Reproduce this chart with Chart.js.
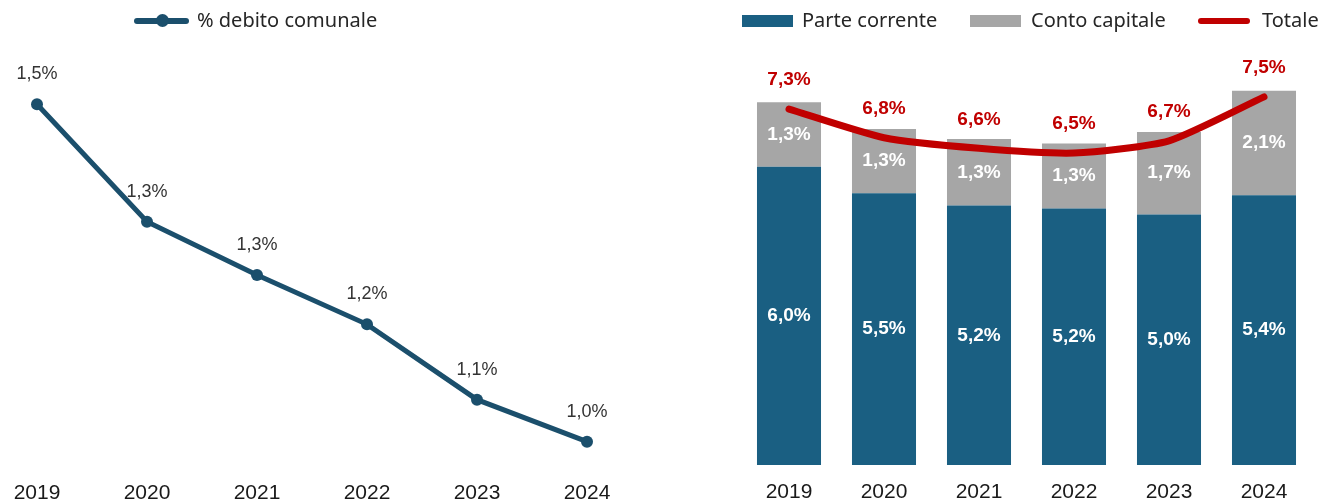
<!DOCTYPE html>
<html><head><meta charset="utf-8">
<script src="https://cdn.jsdelivr.net/npm/chart.js@4.4.1/dist/chart.umd.min.js"></script>
<style>
html,body{margin:0;padding:0;background:#fff;width:1322px;height:503px;overflow:hidden;position:relative;font-family:"Noto Sans",sans-serif}
canvas{position:absolute;top:0}
#c1{left:0}
#c2{left:661px}
.lg{position:absolute;font-size:20px;color:#262626;line-height:22px;white-space:nowrap;top:9px}
.sw{position:absolute}
</style></head>
<body>
<canvas id="c1" width="661" height="503"></canvas>
<canvas id="c2" width="661" height="503"></canvas>

<div class="sw" style="left:134px;top:18px;width:55px;height:6px;border-radius:3px;background:#1B4F6C"></div>
<div class="sw" style="left:156px;top:14px;width:13px;height:13px;border-radius:7px;background:#1B4F6C"></div>
<div class="lg" style="left:197px">% debito comunale</div>

<div class="sw" style="left:742px;top:15px;width:51px;height:12px;background:#1A5F82"></div>
<div class="lg" style="left:802px">Parte corrente</div>
<div class="sw" style="left:970px;top:15px;width:51px;height:12px;background:#A6A6A6"></div>
<div class="lg" style="left:1031px">Conto capitale</div>
<div class="sw" style="left:1198px;top:18px;width:52px;height:6px;border-radius:3px;background:#C00000"></div>
<div class="lg" style="left:1262px">Totale</div>

<script>
const years = ['2019', '2020', '2021', '2022', '2023', '2024'];
const debitoComunale = [1.516, 1.34, 1.26, 1.186, 1.073, 1.01];
const parteCorrente = [6.00, 5.47, 5.22, 5.16, 5.04, 5.43];
const contoCapitale = [1.30, 1.29, 1.34, 1.31, 1.66, 2.10];
const totale = [7.30, 6.76, 6.56, 6.47, 6.70, 7.53];

const fmt = v => v.toFixed(1).replace('.', ',') + '%';

const labelPlugin = {
  id: 'valueLabels',
  afterDatasetsDraw(chart) {
    const ctx = chart.ctx;
    ctx.save();
    ctx.textAlign = 'center';
    ctx.textBaseline = 'middle';
    chart.data.datasets.forEach((ds, i) => {
      const cfg = ds.valueLabel;
      if (!cfg) return;
      const meta = chart.getDatasetMeta(i);
      ctx.font = cfg.font;
      ctx.fillStyle = cfg.color;
      meta.data.forEach((el, j) => {
        const v = ds.data[j];
        const y = cfg.mode === 'center' ? (el.y + el.base) / 2 : el.y - cfg.dy;
        ctx.fillText(fmt(v), el.x, y);
      });
    });
    ctx.restore();
  }
};

const tickFont = {family: '"Liberation Sans", Arial, sans-serif', size: 21};
const boldLbl = 'bold 19px "Liberation Sans", Arial, sans-serif';

new Chart(document.getElementById('c1'), {
  type: 'line',
  data: {
    labels: years,
    datasets: [{
      label: '% debito comunale',
      data: debitoComunale,
      borderColor: '#1B4F6C',
      backgroundColor: '#1B4F6C',
      borderWidth: 5,
      pointRadius: 6,
      pointHoverRadius: 6,
      pointBorderWidth: 0,
      tension: 0,
      clip: false,
      valueLabel: {mode: 'above', dy: 30, font: '18px "Liberation Sans", Arial, sans-serif', color: '#333333'}
    }]
  },
  options: {
    responsive: false,
    animation: false,
    events: [],
    layout: {padding: {left: 37, right: 74, top: 80, bottom: 0}},
    plugins: {legend: {display: false}, tooltip: {enabled: false}},
    scales: {
      x: {
        offset: false,
        grid: {display: false, drawTicks: false},
        border: {display: false},
        ticks: {padding: 4, color: '#1a1a1a', font: tickFont, maxRotation: 0, autoSkip: false},
        afterFit: s => { s.height = 26; }
      },
      y: {display: false, min: 0.957, max: 1.5525}
    }
  },
  plugins: [labelPlugin]
});

new Chart(document.getElementById('c2'), {
  type: 'bar',
  data: {
    labels: years,
    datasets: [
      {
        type: 'line',
        label: 'Totale',
        data: totale,
        yAxisID: 'y2',
        borderColor: '#C00000',
        backgroundColor: '#C00000',
        borderWidth: 7,
        pointRadius: 0,
        tension: 0.2,
        borderCapStyle: 'round',
        borderJoinStyle: 'round',
        order: 0,
        clip: false,
        valueLabel: {mode: 'above', dy: 29, font: boldLbl, color: '#C00000'}
      },
      {
        label: 'Parte corrente',
        data: parteCorrente,
        backgroundColor: '#1A5F82',
        stack: 's',
        order: 1,
        barPercentage: 0.674,
        categoryPercentage: 1,
        valueLabel: {mode: 'center', font: boldLbl, color: '#ffffff'}
      },
      {
        label: 'Conto capitale',
        data: contoCapitale,
        backgroundColor: '#A6A6A6',
        stack: 's',
        order: 1,
        barPercentage: 0.674,
        categoryPercentage: 1,
        valueLabel: {mode: 'center', font: boldLbl, color: '#ffffff'}
      }
    ]
  },
  options: {
    responsive: false,
    animation: false,
    events: [],
    layout: {padding: {left: 80.5, right: 10.5, top: 60, bottom: 0}},
    plugins: {legend: {display: false}, tooltip: {enabled: false}},
    scales: {
      x: {
        stacked: true,
        grid: {display: false, drawTicks: false},
        border: {display: false},
        ticks: {padding: 15, color: '#1a1a1a', font: tickFont, maxRotation: 0, autoSkip: false},
        afterFit: s => { s.height = 38; }
      },
      y: {display: false, stacked: true, min: 0, max: 8.149},
      y2: {display: false, min: 0.585, max: 8.227}
    }
  },
  plugins: [labelPlugin]
});
</script>
</body></html>
